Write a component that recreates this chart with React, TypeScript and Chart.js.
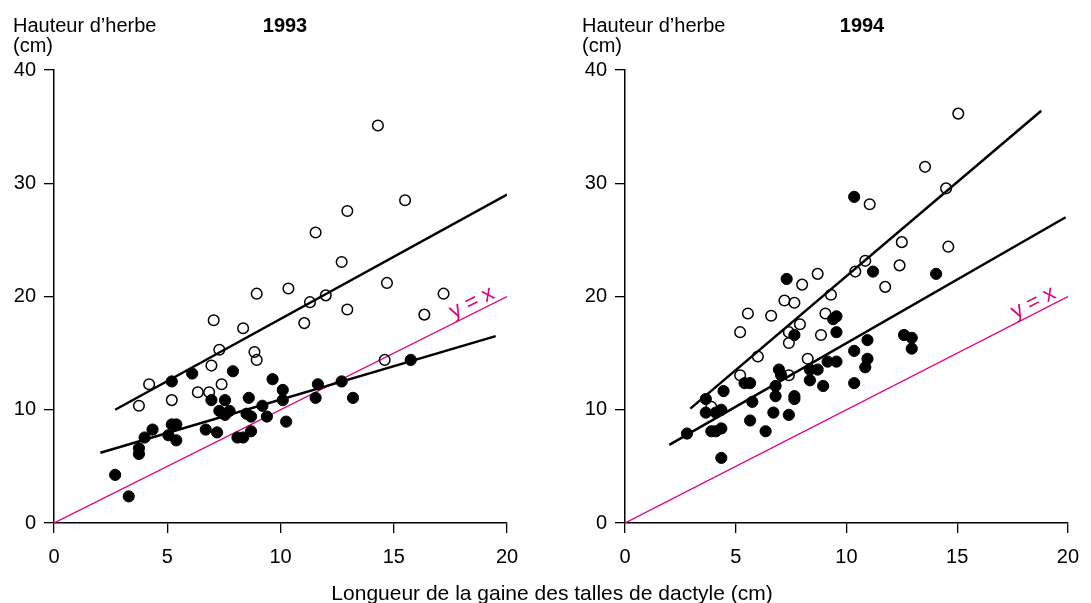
import React, { useEffect, useRef } from "react";
import { Chart, registerables } from "chart.js";

Chart.register(...registerables);

type Pt = [number, number];

// ---- Data ----
const xTickStep = 5;
const yTickStep = 10;
const xRange: Pt = [0, 20];
const yRange: Pt = [0, 40];
const years = ["1993", "1994"];

const open1993: Pt[] = [
  [14.3, 35.1], [15.5, 28.5], [12.95, 27.55], [11.55, 25.65], [12.7, 23.05],
  [14.7, 21.2], [10.35, 20.7], [8.95, 20.25], [17.2, 20.25], [12.0, 20.1],
  [11.3, 19.5], [12.95, 18.85], [16.35, 18.4], [7.05, 17.9], [8.35, 17.2],
  [11.05, 17.65], [7.3, 15.3], [8.85, 15.1], [8.95, 14.4], [14.6, 14.4],
  [6.95, 13.9], [4.2, 12.25], [7.4, 12.25], [6.35, 11.55], [6.85, 11.55],
  [3.75, 10.35], [5.2, 10.85],
];

const filled1993: Pt[] = [
  [15.75, 14.4], [5.2, 12.5], [6.1, 13.2], [7.9, 13.4], [9.65, 12.7],
  [10.1, 11.75], [10.1, 10.85], [8.6, 11.05], [11.65, 12.25], [12.7, 12.5],
  [11.55, 11.05], [13.2, 11.05], [6.95, 10.85], [7.55, 10.85], [7.3, 9.9],
  [7.75, 9.9], [7.55, 9.55], [8.5, 9.65], [8.7, 9.4], [9.2, 10.35],
  [9.4, 9.4], [10.25, 8.95], [5.2, 8.7], [5.4, 8.7], [4.35, 8.25],
  [4.0, 7.55], [5.05, 7.75], [5.4, 7.3], [6.7, 8.25], [7.2, 8.0],
  [8.1, 7.55], [8.35, 7.55], [8.7, 8.1], [3.75, 6.6], [3.75, 6.1],
  [2.7, 4.25], [3.3, 2.35],
];

const open1994: Pt[] = [
  [15.05, 36.15], [13.55, 31.45], [14.5, 29.55], [11.05, 28.15], [12.5, 24.8],
  [14.6, 24.4], [10.85, 23.15], [10.4, 22.2], [12.4, 22.75], [8.7, 22.0],
  [8.0, 21.05], [11.75, 20.85], [9.3, 20.15], [7.2, 19.65], [7.65, 19.45],
  [5.55, 18.5], [6.6, 18.3], [9.05, 18.5], [7.9, 17.55], [5.2, 16.85],
  [7.4, 16.85], [8.85, 16.6], [7.4, 15.9], [6.0, 14.7], [8.25, 14.5],
  [5.2, 13.05], [7.4, 13.05], [3.9, 10.25],
];

const filled1994: Pt[] = [
  [10.35, 28.8], [7.3, 21.55], [11.2, 22.2], [14.05, 22.0], [7.65, 16.6],
  [9.4, 18.0], [9.55, 18.25], [9.55, 16.85], [10.95, 16.15], [10.35, 15.2],
  [10.95, 14.5], [10.85, 13.75], [9.15, 14.25], [9.55, 14.25], [12.6, 16.6],
  [12.95, 16.35], [12.95, 15.4], [10.35, 12.35], [8.95, 12.1], [8.7, 13.55],
  [8.35, 13.55], [8.35, 12.6], [6.95, 13.55], [7.05, 13.05], [6.8, 12.1],
  [6.8, 11.2], [7.65, 11.2], [7.65, 10.95], [6.7, 9.75], [7.4, 9.55],
  [6.35, 8.1], [5.65, 9.05], [5.75, 10.7], [5.4, 12.35], [5.65, 12.35],
  [4.45, 11.65], [3.65, 10.95], [3.65, 9.75], [4.1, 9.75], [4.35, 10.0],
  [3.9, 8.1], [4.1, 8.1], [4.35, 8.35], [2.8, 7.9], [4.35, 5.75],
];

// regression line end points
const fitOpen1993: Pt[] = [[2.7, 10.0], [20.0, 29.0]];
const fitFilled1993: Pt[] = [[2.05, 6.2], [19.5, 16.5]];
const fitOpen1994: Pt[] = [[2.95, 10.1], [18.8, 36.4]];
const fitFilled1994: Pt[] = [[2.0, 6.9], [19.9, 27.0]];
const identityLine: Pt[] = [[0, 0], [20, 20]];
const identityLabelAt = 18.65;

const yAxisTitle = ["Hauteur d’herbe", "(cm)"];
const xAxisTitle = "Longueur de la gaine des talles de dactyle (cm)";
const identityText = "y = x";

// ---- Styling ----
const FONT = '"Liberation Sans", Arial, Helvetica, sans-serif';
const MAGENTA = "#e4007c";
const H = 603;

const toXY = (a: Pt[]) => a.map(([x, y]) => ({ x, y }));

interface PanelCfg {
  year: string;
  open: Pt[];
  filled: Pt[];
  fitOpen: Pt[];
  fitFilled: Pt[];
  width: number;
  area: { left: number; right: number; top: number; bottom: number };
  titleX: number;
  yearX: number;
}

const panels: PanelCfg[] = [
  {
    year: years[0], open: open1993, filled: filled1993,
    fitOpen: fitOpen1993, fitFilled: fitFilled1993,
    width: 545, area: { left: 54, right: 507, top: 70, bottom: 523 },
    titleX: 13, yearX: 285,
  },
  {
    year: years[1], open: open1994, filled: filled1994,
    fitOpen: fitOpen1994, fitFilled: fitFilled1994,
    width: 546, area: { left: 80, right: 532, top: 70, bottom: 523 },
    titleX: 37, yearX: 317,
  },
];

function buildChart(canvas: HTMLCanvasElement, cfg: PanelCfg) {
  const textPlugin = {
    id: "panelText",
    afterDraw(chart: any) {
      const ctx = chart.ctx as CanvasRenderingContext2D;
      ctx.save();
      ctx.fillStyle = "#000";
      ctx.textBaseline = "alphabetic";
      ctx.textAlign = "left";
      ctx.font = `20px ${FONT}`;
      ctx.fillText(yAxisTitle[0], cfg.titleX, 32);
      ctx.fillText(yAxisTitle[1], cfg.titleX, 52);
      ctx.font = `bold 20px ${FONT}`;
      ctx.textAlign = "center";
      ctx.fillText(cfg.year, cfg.yearX, 32);

      const xs = chart.scales.x;
      const ys = chart.scales.y;
      const v = identityLabelAt;
      const px = xs.getPixelForValue(v);
      const py = ys.getPixelForValue(v);
      const ang = Math.atan2(
        ys.getPixelForValue(v + 1) - py,
        xs.getPixelForValue(v + 1) - px
      );
      ctx.translate(px, py);
      ctx.rotate(ang);
      ctx.fillStyle = MAGENTA;
      ctx.font = `22px ${FONT}`;
      ctx.textAlign = "center";
      ctx.fillText(identityText, 0, -4);
      ctx.restore();
    },
  };

  const a = cfg.area;
  return new Chart(canvas, {
    type: "scatter",
    data: {
      datasets: [
        {
          label: "y = x",
          data: toXY(identityLine),
          showLine: true,
          borderColor: MAGENTA,
          borderWidth: 1.3,
          pointRadius: 0,
          order: 4,
        },
        {
          label: "open",
          data: toXY(cfg.open),
          pointRadius: 5.3,
          pointBorderWidth: 1.5,
          pointBorderColor: "#000",
          pointBackgroundColor: "rgba(255,255,255,0)",
          borderColor: "#000",
          backgroundColor: "rgba(255,255,255,0)",
          order: 3,
        },
        {
          label: "filled",
          data: toXY(cfg.filled),
          pointRadius: 5.6,
          pointBorderWidth: 1,
          pointBorderColor: "#000",
          pointBackgroundColor: "#000",
          borderColor: "#000",
          backgroundColor: "#000",
          order: 2,
        },
        {
          label: "fit open",
          data: toXY(cfg.fitOpen),
          showLine: true,
          borderColor: "#000",
          borderWidth: 2.5,
          pointRadius: 0,
          order: 1,
        },
        {
          label: "fit filled",
          data: toXY(cfg.fitFilled),
          showLine: true,
          borderColor: "#000",
          borderWidth: 2.5,
          pointRadius: 0,
          order: 1,
        },
      ],
    },
    options: {
      responsive: false,
      animation: false,
      devicePixelRatio: 1,
      events: [],
      layout: {
        padding: { top: a.top, right: cfg.width - a.right, bottom: 0, left: 0 },
      },
      plugins: {
        legend: { display: false },
        tooltip: { enabled: false },
        title: { display: false },
      },
      scales: {
        x: {
          type: "linear",
          min: xRange[0],
          max: xRange[1],
          ticks: {
            stepSize: xTickStep,
            color: "#000",
            font: { size: 20, family: FONT },
            padding: 12,
            maxRotation: 0,
          },
          grid: {
            display: true,
            drawOnChartArea: false,
            drawTicks: true,
            tickLength: 10,
            color: "#000",
            lineWidth: 1.3,
          },
          border: { display: true, color: "#000", width: 1.5 },
          afterFit: (s: any) => {
            s.height = H - a.bottom;
          },
        },
        y: {
          type: "linear",
          min: yRange[0],
          max: yRange[1],
          ticks: {
            stepSize: yTickStep,
            color: "#000",
            font: { size: 20, family: FONT },
            padding: 8,
          },
          grid: {
            display: true,
            drawOnChartArea: false,
            drawTicks: true,
            tickLength: 10,
            color: "#000",
            lineWidth: 1.3,
          },
          border: { display: true, color: "#000", width: 1.5 },
          afterFit: (s: any) => {
            s.width = a.left;
          },
        },
      },
    } as any,
    plugins: [textPlugin],
  });
}

export default function App() {
  const leftRef = useRef<HTMLCanvasElement>(null);
  const rightRef = useRef<HTMLCanvasElement>(null);

  useEffect(() => {
    const charts: Chart[] = [];
    if (leftRef.current) charts.push(buildChart(leftRef.current, panels[0]));
    if (rightRef.current) charts.push(buildChart(rightRef.current, panels[1]));
    return () => charts.forEach((c) => c.destroy());
  }, []);

  return (
    <div
      style={{
        position: "absolute",
        left: 0,
        top: 0,
        width: 1091,
        height: 603,
        background: "#fff",
        overflow: "hidden",
      }}
    >
      <canvas
        ref={leftRef}
        width={panels[0].width}
        height={H}
        style={{ position: "absolute", left: 0, top: 0 }}
      />
      <canvas
        ref={rightRef}
        width={panels[1].width}
        height={H}
        style={{ position: "absolute", left: panels[0].width, top: 0 }}
      />
      <div
        style={{
          position: "absolute",
          left: 252,
          width: 600,
          top: 582,
          textAlign: "center",
          fontFamily: FONT,
          fontSize: 21,
          lineHeight: "21px",
          color: "#000",
          whiteSpace: "nowrap",
        }}
      >
        {xAxisTitle}
      </div>
    </div>
  );
}
